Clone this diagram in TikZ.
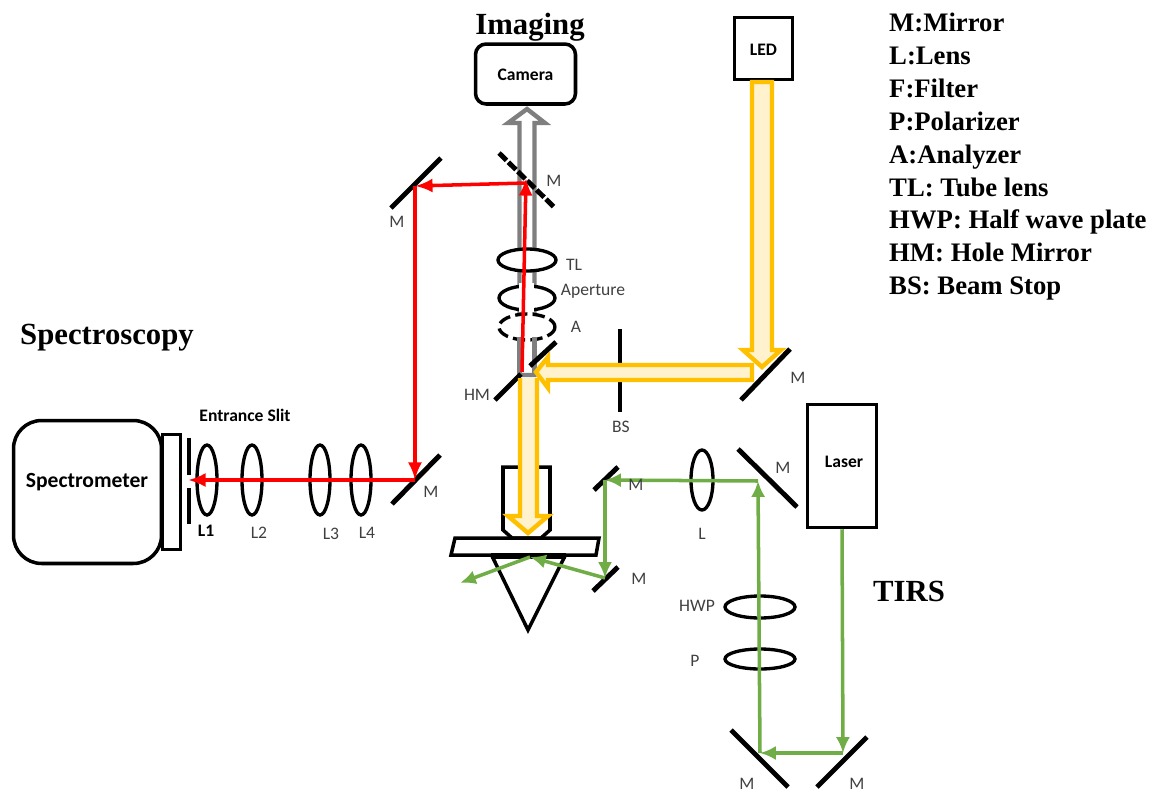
\documentclass[tikz,border=0pt]{standalone}
\usepackage{fontspec}
\setmainfont{Carlito}
\newfontfamily\titlefont{Liberation Serif}
\usetikzlibrary{arrows.meta}
\definecolor{beamyellow}{HTML}{FFC000}
\definecolor{beamcream}{HTML}{FFF2CC}
\definecolor{beamgreen}{HTML}{70AD47}
\definecolor{beamgray}{HTML}{7F7F7F}
\definecolor{labelgray}{HTML}{404040}
\tikzset{
  part/.style={draw=black,line width=2pt,fill=white},
  mirror/.style={line width=2.8pt},
  lens/.style={draw=black,line width=1.9pt,fill=white},
  redbeam/.style={-{Latex[length=10pt,width=8pt]},red,line width=2pt},
  greenbeam/.style={-{Latex[length=9pt,width=8pt]},beamgreen,line width=2pt},
  yellowbeam/.style={draw=beamyellow,fill=beamcream,line width=2.5pt,line join=miter},
  graybeam/.style={draw=beamgray,fill=white,line width=2.5pt},
  tag/.style={text=labelgray,font=\fontsize{10}{12}\selectfont},
  boldtag/.style={font=\fontsize{10}{12}\selectfont\bfseries},
  heading/.style={font=\fontsize{17.5}{20}\selectfont\titlefont\bfseries},
  key/.style={anchor=base west,font=\fontsize{15.2}{17}\selectfont\titlefont\bfseries},
}
\begin{document}
\begin{tikzpicture}[x=0.02cm,y=-0.02cm]
\useasboundingbox (0,0) rectangle (1154,792);
\draw[graybeam] (519.5,375) -- (519.5,123) -- (508,123) -- (527,109) -- (545,123) -- (534.5,123) -- (534.5,375) -- cycle;
\node[part,rounded corners=6pt,minimum width=2cm,minimum height=1.2cm] (camera) at (525.5,74) {};
\node[part,minimum width=1.16cm,minimum height=1.24cm] (led) at (763.5,48.5) {};
\node[part,minimum width=1.38cm,minimum height=2.46cm] (laser) at (842,466) {};
\node[part,rounded corners=16pt,minimum width=2.96cm,minimum height=2.86cm] (spectrometer) at (87.5,492) {};
\node[part,minimum width=0.36cm,minimum height=2.3cm] (adapter) at (171.5,492) {};
\draw[yellowbeam] (752,82) -- (772,82) -- (772,350) -- (781,350) -- (762,367) -- (743,350) -- (752,350) -- cycle;
\draw[lens] (527,260) ellipse [x radius=29,y radius=11];
\draw[lens] (527,298) ellipse [x radius=28,y radius=12];
\fill[white] (519,283) rectangle (534,312);
\draw[lens,dash pattern=on 7pt off 3pt] (527,327) ellipse [x radius=28,y radius=13];
\fill[white] (519,317) rectangle (535,336);
\draw[beamgray,line width=2.5pt] (519.5,337) -- (519.5,375) (534.5,337) -- (534.5,375);
\draw[mirror,dash pattern=on 6pt off 1.5pt] (499,153) -- (555,208);
\draw[mirror] (495,400) -- (521,374) (530,366) -- (556,342);
\draw[mirror] (391,208) -- (441,158);
\draw[mirror] (392,504) -- (440,455);
\draw[mirror] (741,400) -- (790,349);
\draw[mirror] (738,449) -- (797,507);
\draw[mirror] (594,490) -- (618,467);
\draw[mirror] (593,591) -- (618,567);
\draw[mirror] (731,730) -- (788,787);
\draw[mirror] (817,787) -- (867,737);
\draw[mirror] (620,329) -- (620,412);
\draw[mirror] (189,438) -- (189,475) (189,488) -- (189,524);
\draw[lens] (207,480) ellipse [x radius=10,y radius=35];
\draw[lens] (252,480) ellipse [x radius=10,y radius=35];
\draw[lens] (320,480) ellipse [x radius=10,y radius=35];
\draw[lens] (361,480) ellipse [x radius=10,y radius=35];
\draw[lens] (702,480) ellipse [x radius=11,y radius=30];
\draw[lens] (760,607) ellipse [x radius=35,y radius=11];
\draw[lens] (760,659) ellipse [x radius=35,y radius=10];
\draw[part] (503,467) -- (550,467) -- (550,530) -- (541,538) -- (512,538) -- (503,530) -- cycle;
\draw[yellowbeam] (537,378) -- (537,516) -- (548,516) -- (528,533) -- (508,516) -- (520,516) -- (520,378);
\draw[yellowbeam] (752,380) -- (548,380) -- (548,388) -- (536,372) -- (548,357) -- (548,365) -- (752,365) -- cycle;
\draw[part] (455,538) -- (599,538) -- (596,555) -- (451,555) -- cycle;
\draw[part] (492,556) -- (565,556) -- (528,630) -- cycle;
\fill (491,553) rectangle (566,559);
\coordinate (hm) at (522,372);
\coordinate (mtop) at (526,178);
\coordinate (mturn) at (526,183);
\coordinate (mleft) at (415,186);
\coordinate (mlow) at (415,480);
\coordinate (slit) at (188,480);
\draw[redbeam] (hm) -- (mtop);
\draw[redbeam] (mturn) -- (mleft);
\draw[redbeam] (mleft) -- (mlow);
\draw[redbeam] (mlow) -- (slit);
\coordinate (mright) at (843,753);
\coordinate (mback) at (760,753);
\coordinate (mfold) at (758,481);
\coordinate (mobj) at (605,480);
\coordinate (mbase) at (605,578);
\coordinate (sample) at (530,557);
\coordinate (exit) at (460,583);
\draw[greenbeam] (laser.south) -- (mright);
\draw[greenbeam] (mright) -- (mback);
\draw[greenbeam] (mback) -- (mfold);
\draw[greenbeam] (mfold) -- (mobj);
\draw[greenbeam] (mobj) -- (mbase);
\draw[greenbeam] (mbase) -- (sample);
\draw[greenbeam] (sample) -- (exit);
\node[boldtag] (cameratext) at (525.5,75) {Camera};
\node[boldtag] (ledtext) at (763.5,50) {LED};
\node[boldtag] (lasertext) at (844,462) {Laser};
\node[font=\fontsize{12.3}{14}\selectfont\bfseries] (spectrotext) at (87,482) {Spectrometer};
\node[boldtag] (slittext) at (245,415) {Entrance Slit};
\node[boldtag] (l1) at (206,531) {L1};
\node[tag] (l2) at (259,533) {L2};
\node[tag] (l3) at (331,534) {L3};
\node[tag] (l4) at (367,533) {L4};
\node[tag] (mlowtext) at (431,492) {M};
\node[tag] (mlefttext) at (397,222) {M};
\node[tag] (mtoptext) at (554,181) {M};
\node[tag] (tl) at (574,265) {TL};
\node[tag] (aperture) at (593,291) {Aperture};
\node[tag] (analyzer) at (576,327) {A};
\node[tag] (hmtext) at (477,395) {HM};
\node[tag] (bs) at (621,427) {BS};
\node[tag] (myellow) at (798,378) {M};
\node[tag] (mobjtext) at (636,485) {M};
\node[tag] (mbasetext) at (639,579) {M};
\node[tag] (lenstext) at (702,534) {L};
\node[tag] (mfoldtext) at (783,468) {M};
\node[tag] (hwp) at (697,606) {HWP};
\node[tag] (p) at (695,661) {P};
\node[tag] (mbacktext) at (747,784) {M};
\node[tag] (mrighttext) at (857,784) {M};
\node[heading] (imaging) at (530,27) {Imaging};
\node[heading] (spectroscopy) at (107,338) {Spectroscopy};
\node[heading] (tirs) at (909,591) {TIRS};
\node[key] (k1) at (883,31) {M:Mirror};
\node[key] (k2) at (883,64) {L:Lens};
\node[key] (k3) at (883,97) {F:Filter};
\node[key] (k4) at (883,130) {P:Polarizer};
\node[key] (k5) at (883,163) {A:Analyzer};
\node[key] (k6) at (883,196) {TL: Tube lens};
\node[key] (k7) at (883,228) {HWP: Half wave plate};
\node[key] (k8) at (883,261) {HM: Hole Mirror};
\node[key] (k9) at (883,294) {BS: Beam Stop};
\end{tikzpicture}
\end{document}
